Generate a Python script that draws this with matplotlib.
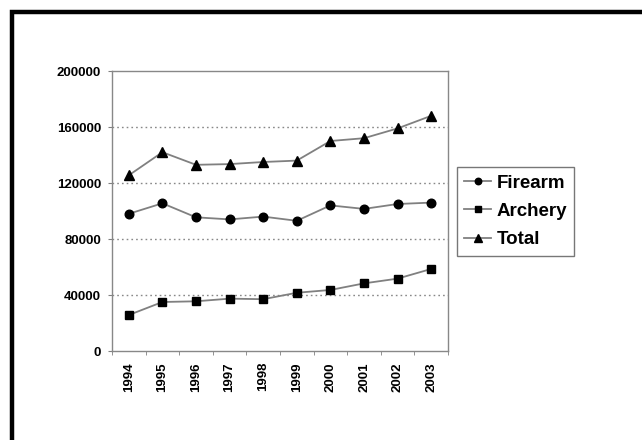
import matplotlib
matplotlib.use("Agg")
import matplotlib.pyplot as plt
from matplotlib.patches import Rectangle
import numpy as np

years = ["1994", "1995", "1996", "1997", "1998", "1999", "2000", "2001", "2002", "2003"]
firearm = [98000, 105500, 95500, 94000, 96000, 93000, 104000, 101500, 105000, 106000]
archery = [25700, 35000, 35500, 37400, 37000, 41600, 43600, 48300, 51700, 58600]
total = [125500, 142000, 133000, 133500, 135000, 136000, 150000, 152000, 159000, 168000]
yticks = [0, 40000, 80000, 120000, 160000, 200000]

plt.rcParams['font.family'] = ['Liberation Sans', 'DejaVu Sans']

fig = plt.figure(figsize=(6.42, 4.40), dpi=100)
ax = fig.add_axes([112/642, 1-351/440, (448-112)/642, (351-71)/440])

x = np.arange(len(years))
line_c = '#808080'
ax.plot(x, firearm, color=line_c, lw=1.3, marker='o', ms=6.2, mfc='black', mec='black', label='Firearm')
ax.plot(x, archery, color=line_c, lw=1.3, marker='s', ms=5.8, mfc='black', mec='black', label='Archery')
ax.plot(x, total, color=line_c, lw=1.3, marker='^', ms=7.2, mfc='black', mec='black', label='Total')

ax.set_xlim(-0.5, len(years)-0.5)
ax.set_ylim(0, 200000)
ax.set_yticks(yticks)
ax.set_yticklabels([str(v) for v in yticks], fontsize=9.5, fontweight='bold')
ax.set_xticks(x)
ax.set_xticklabels(years, rotation=90, fontsize=9.5, fontweight='bold')
ax.set_xticks(np.arange(-0.5, len(years)), minor=True)
ax.tick_params(axis='x', which='major', length=0, pad=8)
ax.tick_params(axis='x', which='minor', length=3, color=line_c, direction='out')
ax.tick_params(axis='y', length=3, color=line_c, direction='out', pad=5)

for v in yticks[1:-1]:
    ax.axhline(v, color='#888888', lw=1.0, ls=(0, (1.2, 2.2)), zorder=0)

for s in ax.spines.values():
    s.set_color('#888888')
    s.set_linewidth(1.0)

leg = ax.legend(loc='center left', bbox_to_anchor=((457-112)/336, (351-211.5)/280),
                frameon=True, fancybox=False, edgecolor='#777777', framealpha=1,
                prop={'weight': 'bold', 'size': 13.5}, handlelength=1.4,
                handletextpad=0.3, borderpad=0.4, labelspacing=0.6,
                markerscale=0.75, borderaxespad=0)
leg.get_frame().set_linewidth(1.0)

fig.patches.append(Rectangle((12/642, -0.1), 1.2, (1-12/440)+0.1, transform=fig.transFigure,
                             fill=False, edgecolor='black', lw=3.2))

fig.savefig("out.png", dpi=100)
